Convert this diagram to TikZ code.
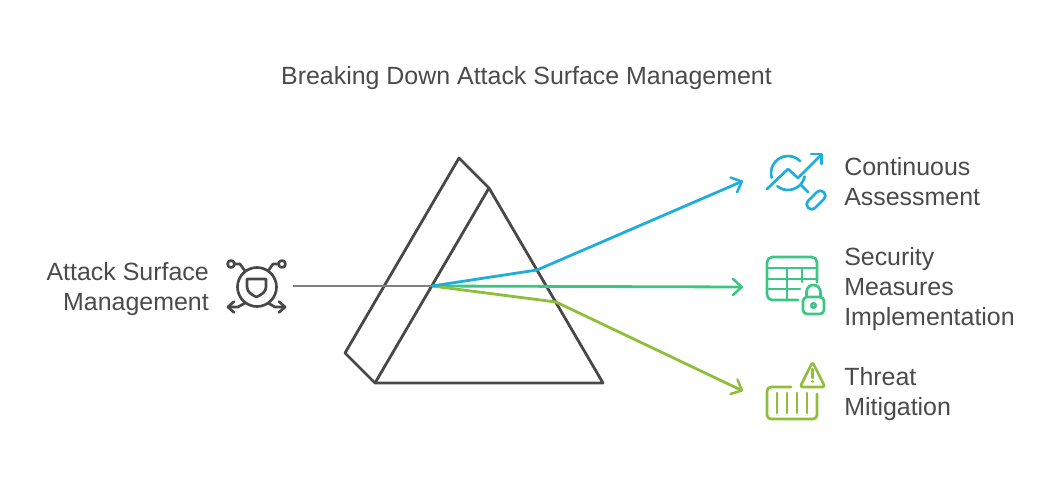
\documentclass[tikz,border=0pt]{standalone}
\usepackage{fontspec}
\setmainfont{Liberation Sans}
\usetikzlibrary{arrows.meta}
\definecolor{inktext}{HTML}{4A4A4A}
\definecolor{prismline}{HTML}{484848}
\definecolor{beamgrey}{HTML}{808080}
\definecolor{beamblue}{HTML}{1FADDB}
\definecolor{beamgreen}{HTML}{3CC583}
\definecolor{beamolive}{HTML}{8FBF3A}
\tikzset{
  label text/.style={text=inktext,inner sep=0pt,font=\fontsize{18.7}{22.5}\selectfont},
  beam/.style={line width=2.1pt,line join=round},
  beamtip/.style={-{Straight Barb[length=6.5pt,width=12pt,line width=1.9pt,round]}},
  icon/.style={line width=2pt,line cap=round,line join=round}
}
\begin{document}
\begin{tikzpicture}[x=0.75pt,y=-0.75pt]
  \useasboundingbox (0,0) rectangle (1053,483);
  \node[label text] (title) at (526.5,78) {Breaking Down Attack Surface Management};
  % Prism
  \coordinate (backtop) at (459,158);
  \coordinate (fronttop) at (489,188);
  \coordinate (backleft) at (345,353);
  \coordinate (frontleft) at (375,383);
  \coordinate (frontright) at (603,383);
  \draw[prismline,line width=2.1pt,line join=round] (backtop) -- (backleft) -- (frontleft) -- (frontright) -- (fronttop) -- cycle;
  \draw[prismline,line width=2.1pt] (fronttop) -- (frontleft);
  % Beams
  \coordinate (source) at (293,286);
  \coordinate (hit) at (432,286);
  \coordinate (exitblue) at (537,270);
  \coordinate (endblue) at (743,181);
  \coordinate (endgreen) at (743,287);
  \coordinate (exitolive) at (556,302);
  \coordinate (endolive) at (743,391);
  \draw[beam,beamgrey] (source) -- (hit);
  \draw[beam,beamgreen,beamtip] (hit) -- (endgreen);
  \draw[beam,beamolive,beamtip] (hit) -- (exitolive) -- (endolive);
  \draw[beam,beamblue,beamtip] (hit) -- (exitblue) -- (endblue);
  % Left label and icon
  \node[label text,align=right,anchor=east] (attack) at (209,289) {Attack Surface\\Management};
  \begin{scope}[icon,prismline]
    \draw (257,287) circle (19.5);
    \draw (247,279) -- (266,279) -- (266,287) .. controls (266,292) and (261,295) .. (256.5,297) .. controls (252,295) and (247,292) .. (247,287) -- cycle;
    \draw (231,264) circle (3.5);
    \draw (282,264) circle (3.5);
    \draw (235,264) -- (240,264) -- (245,271);
    \draw (278,264) -- (273,264) -- (268,271);
    \draw (245,303) -- (238,307) -- (228,307);
    \draw (234,301.5) -- (228,307) -- (234,312.5);
    \draw (268,303) -- (275,307) -- (285,307);
    \draw (279,301.5) -- (285,307) -- (279,312.5);
  \end{scope}
  % Continuous Assessment
  \node[label text,align=left,anchor=west] (assess) at (844,182) {Continuous\\Assessment};
  \begin{scope}[icon,beamblue]
    \draw (771.7,177.7) arc[start angle=164,end angle=315,radius=17];
    \draw (777.3,186.2) arc[start angle=129,end angle=12,radius=17];
    \draw (767,189) -- (788,169) -- (798,178) -- (821,155);
    \draw (811,154) -- (821.5,154) -- (821.5,164);
    \draw (801,185) -- (808,192);
    \draw[rotate around={45:(816,200)},rounded corners=3.5pt] (805,195) rectangle (827,205);
  \end{scope}
  % Security Measures Implementation
  \node[label text,align=left,anchor=west] (measures) at (844,289) {Security\\Measures\\Implementation};
  \begin{scope}[icon,beamgreen]
    \draw[rounded corners=4pt] (817,282) -- (817,257) -- (767,257) -- (767,300) -- (798,300);
    \draw (767,268) -- (817,268);
    \draw (767,279) -- (817,279);
    \draw (767,289) -- (800,289);
    \draw (787,268) -- (787,300);
    \draw (802,268) -- (802,282);
    \draw[rounded corners=3pt] (803,297) rectangle (824,314);
    \draw (806.5,297) -- (806.5,292) arc[start angle=180,end angle=360,radius=7] -- (820.5,297);
    \draw (813.5,305.5) circle (2.2);
  \end{scope}
  % Threat Mitigation
  \node[label text,align=left,anchor=west] (threat) at (844,394) {Threat\\Mitigation};
  \begin{scope}[icon,beamolive]
    \draw[rounded corners=3pt] (791,387) -- (767,387) -- (767,419) -- (817,419) -- (817,394);
    \draw (777,393) -- (777,413);
    \draw (787,393) -- (787,413);
    \draw (797,393) -- (797,413);
    \draw (807,393) -- (807,413);
    \draw[rounded corners=2pt] (812.5,362) -- (800,387) -- (825,387) -- cycle;
    \draw (812.5,369) -- (812.5,378);
    \fill (812.5,381.5) circle (1.5);
  \end{scope}
\end{tikzpicture}
\end{document}
